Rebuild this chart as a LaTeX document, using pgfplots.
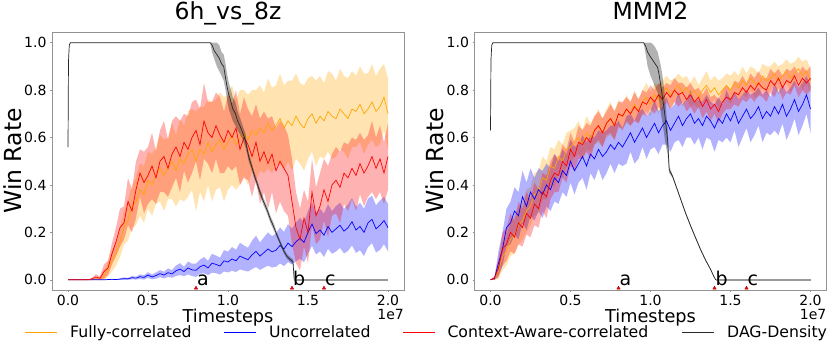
\documentclass[border=0pt]{standalone}
\usepackage{fontspec}
\setmainfont{DejaVu Sans}
\usepackage{pgfplots}
\usepackage{pgfplotstable}
\pgfplotsset{compat=1.18}

\definecolor{mplorange}{RGB}{255,165,0}
\definecolor{mplblue}{RGB}{0,0,255}
\definecolor{mplred}{RGB}{255,0,0}

% win rate, mean and std per method (x in units of 1e7 timesteps)
\pgfplotstableread{
x fm fs um us cm cs
0 0 0 0 0 0 0
0.025 0 0 0 0 0 0
0.05 0 0 0 0 0 0
0.075 0 0 0 0 0 0
0.1 0 0 0 0 0 0
0.125 0 0 0 0 0 0
0.15 0 0 0 0 0.004 0.005
0.175 0.003 0.004 0 0 0.012 0.012
0.2 0.005 0.006 0 0 0.006 0.008
0.225 0.018 0.02 0 0 0.035 0.03
0.25 0.045 0.03 0.001 0.001 0.05 0.03
0.275 0.08 0.045 0.002 0.002 0.11 0.045
0.3 0.11 0.05 0.001 0.001 0.16 0.06
0.325 0.16 0.065 0.003 0.003 0.22 0.08
0.35 0.22 0.07 0.005 0.005 0.24 0.07
0.375 0.25 0.085 0.004 0.004 0.33 0.1
0.4 0.31 0.09 0.009 0.007 0.29 0.09
0.425 0.33 0.1 0.007 0.006 0.38 0.12
0.45 0.38 0.11 0.013 0.01 0.45 0.1
0.475 0.36 0.12 0.01 0.009 0.41 0.13
0.5 0.42 0.12 0.02 0.012 0.44 0.12
0.525 0.4 0.13 0.012 0.01 0.48 0.14
0.55 0.44 0.12 0.018 0.013 0.43 0.11
0.575 0.47 0.14 0.026 0.015 0.5 0.13
0.6 0.44 0.15 0.02 0.014 0.52 0.15
0.625 0.47 0.13 0.03 0.018 0.47 0.12
0.65 0.5 0.16 0.025 0.016 0.53 0.14
0.675 0.46 0.15 0.038 0.022 0.56 0.13
0.7 0.51 0.17 0.045 0.025 0.52 0.15
0.725 0.49 0.16 0.035 0.02 0.58 0.12
0.75 0.53 0.18 0.05 0.027 0.55 0.14
0.775 0.55 0.17 0.042 0.026 0.6 0.15
0.8 0.5 0.21 0.04 0.028 0.63 0.13
0.825 0.55 0.18 0.055 0.03 0.57 0.15
0.85 0.53 0.2 0.062 0.034 0.67 0.16
0.875 0.58 0.18 0.05 0.03 0.62 0.13
0.9 0.54 0.21 0.07 0.04 0.6 0.15
0.925 0.57 0.19 0.065 0.037 0.65 0.14
0.95 0.59 0.2 0.058 0.036 0.61 0.16
0.975 0.55 0.22 0.08 0.045 0.58 0.13
1.0 0.58 0.2 0.075 0.044 0.63 0.15
1.025 0.61 0.21 0.088 0.05 0.6 0.14
1.05 0.57 0.19 0.08 0.047 0.64 0.16
1.075 0.6 0.2 0.1 0.056 0.55 0.15
1.1 0.62 0.18 0.092 0.053 0.6 0.17
1.125 0.59 0.19 0.085 0.05 0.57 0.15
1.15 0.63 0.17 0.105 0.06 0.52 0.17
1.175 0.61 0.19 0.12 0.066 0.58 0.16
1.2 0.64 0.18 0.1 0.058 0.5 0.18
1.225 0.62 0.17 0.115 0.064 0.54 0.17
1.25 0.66 0.19 0.13 0.07 0.49 0.19
1.275 0.63 0.18 0.118 0.066 0.53 0.16
1.3 0.65 0.17 0.125 0.07 0.46 0.18
1.325 0.68 0.19 0.145 0.076 0.5 0.17
1.35 0.64 0.18 0.13 0.072 0.47 0.18
1.375 0.67 0.17 0.155 0.08 0.44 0.17
1.4 0.65 0.19 0.14 0.076 0.33 0.18
1.425 0.69 0.18 0.16 0.082 0.22 0.15
1.45 0.66 0.17 0.175 0.086 0.17 0.13
1.475 0.64 0.18 0.158 0.084 0.26 0.12
1.5 0.68 0.17 0.2 0.09 0.2 0.13
1.525 0.7 0.16 0.235 0.092 0.37 0.14
1.55 0.66 0.18 0.195 0.088 0.27 0.12
1.575 0.69 0.17 0.21 0.09 0.31 0.14
1.6 0.67 0.16 0.188 0.092 0.38 0.13
1.625 0.71 0.17 0.225 0.094 0.33 0.15
1.65 0.69 0.18 0.2 0.09 0.4 0.13
1.675 0.68 0.16 0.215 0.096 0.42 0.14
1.7 0.72 0.17 0.23 0.095 0.39 0.15
1.725 0.7 0.16 0.205 0.094 0.45 0.13
1.75 0.68 0.17 0.22 0.098 0.43 0.14
1.775 0.72 0.16 0.245 0.1 0.47 0.13
1.8 0.71 0.15 0.21 0.097 0.44 0.15
1.825 0.74 0.16 0.225 0.1 0.49 0.13
1.85 0.7 0.17 0.2 0.1 0.45 0.14
1.875 0.72 0.15 0.24 0.102 0.48 0.13
1.9 0.75 0.16 0.255 0.1 0.52 0.15
1.925 0.71 0.15 0.215 0.1 0.47 0.13
1.95 0.73 0.16 0.23 0.104 0.51 0.14
1.975 0.77 0.14 0.25 0.1 0.45 0.13
2.0 0.7 0.15 0.22 0.1 0.52 0.14
}\hvsz

\pgfplotstableread{
x fm fs um us cm cs
0 0 0 0 0 0 0
0.025 0.004 0.004 0.006 0.006 0.008 0.008
0.05 0.035 0.03 0.07 0.05 0.05 0.04
0.075 0.1 0.06 0.13 0.07 0.13 0.07
0.1 0.12 0.06 0.22 0.08 0.15 0.07
0.125 0.17 0.07 0.24 0.09 0.2 0.08
0.15 0.19 0.08 0.29 0.1 0.18 0.07
0.175 0.23 0.08 0.27 0.1 0.24 0.09
0.2 0.25 0.08 0.35 0.11 0.22 0.08
0.225 0.29 0.09 0.31 0.1 0.28 0.09
0.25 0.31 0.08 0.37 0.1 0.26 0.08
0.275 0.36 0.09 0.34 0.09 0.32 0.09
0.3 0.37 0.09 0.38 0.09 0.3 0.08
0.325 0.43 0.09 0.36 0.1 0.37 0.08
0.35 0.42 0.08 0.4 0.09 0.35 0.09
0.375 0.48 0.08 0.38 0.09 0.42 0.08
0.4 0.47 0.08 0.43 0.1 0.45 0.08
0.425 0.52 0.07 0.41 0.09 0.44 0.07
0.45 0.5 0.07 0.46 0.09 0.5 0.07
0.475 0.55 0.07 0.44 0.09 0.48 0.07
0.5 0.56 0.07 0.5 0.09 0.55 0.07
0.525 0.58 0.06 0.46 0.1 0.52 0.06
0.55 0.6 0.07 0.49 0.08 0.58 0.07
0.575 0.57 0.06 0.52 0.09 0.57 0.06
0.6 0.62 0.07 0.48 0.1 0.6 0.06
0.625 0.6 0.06 0.53 0.08 0.58 0.07
0.65 0.63 0.06 0.51 0.09 0.63 0.06
0.675 0.65 0.07 0.55 0.08 0.65 0.06
0.7 0.62 0.06 0.52 0.1 0.62 0.06
0.725 0.66 0.06 0.54 0.09 0.66 0.05
0.75 0.68 0.07 0.57 0.08 0.68 0.06
0.775 0.65 0.06 0.55 0.1 0.65 0.06
0.8 0.7 0.06 0.58 0.09 0.7 0.05
0.825 0.69 0.05 0.56 0.08 0.69 0.06
0.85 0.72 0.06 0.59 0.1 0.72 0.05
0.875 0.7 0.05 0.62 0.08 0.7 0.05
0.9 0.74 0.06 0.58 0.09 0.73 0.06
0.925 0.71 0.05 0.61 0.1 0.71 0.05
0.95 0.75 0.05 0.64 0.08 0.75 0.05
0.975 0.77 0.06 0.6 0.09 0.74 0.05
1.0 0.74 0.05 0.63 0.08 0.77 0.05
1.025 0.78 0.05 0.66 0.1 0.75 0.05
1.05 0.76 0.06 0.62 0.09 0.78 0.05
1.075 0.79 0.05 0.65 0.08 0.76 0.05
1.1 0.81 0.05 0.67 0.1 0.79 0.04
1.125 0.78 0.06 0.63 0.09 0.77 0.05
1.15 0.8 0.05 0.66 0.08 0.8 0.05
1.175 0.82 0.05 0.69 0.1 0.78 0.05
1.2 0.79 0.06 0.65 0.09 0.79 0.04
1.225 0.81 0.05 0.68 0.08 0.76 0.05
1.25 0.78 0.05 0.7 0.1 0.78 0.05
1.275 0.8 0.06 0.66 0.09 0.75 0.05
1.3 0.77 0.05 0.68 0.08 0.77 0.04
1.325 0.8 0.05 0.65 0.1 0.73 0.05
1.35 0.82 0.06 0.69 0.09 0.76 0.05
1.375 0.79 0.05 0.67 0.08 0.72 0.05
1.4 0.81 0.05 0.64 0.1 0.74 0.04
1.425 0.78 0.06 0.68 0.09 0.71 0.05
1.45 0.8 0.05 0.66 0.08 0.75 0.05
1.475 0.82 0.05 0.7 0.1 0.77 0.05
1.5 0.8 0.06 0.67 0.09 0.76 0.04
1.525 0.83 0.05 0.71 0.08 0.79 0.05
1.55 0.81 0.05 0.66 0.1 0.78 0.05
1.575 0.84 0.06 0.69 0.09 0.81 0.05
1.6 0.82 0.05 0.72 0.08 0.79 0.04
1.625 0.85 0.05 0.68 0.1 0.82 0.05
1.65 0.83 0.06 0.7 0.09 0.8 0.05
1.675 0.82 0.05 0.73 0.08 0.83 0.05
1.7 0.86 0.05 0.68 0.1 0.81 0.04
1.725 0.84 0.06 0.71 0.09 0.8 0.05
1.75 0.85 0.05 0.69 0.08 0.84 0.05
1.775 0.87 0.05 0.73 0.1 0.82 0.05
1.8 0.84 0.06 0.7 0.09 0.85 0.04
1.825 0.86 0.05 0.74 0.08 0.81 0.05
1.85 0.88 0.05 0.69 0.1 0.84 0.05
1.875 0.85 0.06 0.72 0.09 0.83 0.05
1.9 0.87 0.05 0.76 0.08 0.86 0.04
1.925 0.89 0.05 0.71 0.1 0.82 0.05
1.95 0.86 0.06 0.74 0.09 0.85 0.05
1.975 0.88 0.05 0.78 0.08 0.83 0.05
2.0 0.84 0.05 0.72 0.1 0.85 0.05
}\mmm

% DAG density, mean and band
\pgfplotstableread{
x m lo hi
0 0.56 0.56 0.56
0.003 0.92 0.92 0.92
0.008 0.99 0.99 0.99
0.015 1 1 1
0.889 1 1 1
0.9 0.99 0.96 1
0.915 0.965 0.93 1
0.93 0.95 0.9 1
0.945 0.935 0.88 0.99
0.96 0.91 0.86 0.96
0.973 0.9 0.84 0.95
0.985 0.85 0.8 0.91
0.994 0.815 0.76 0.87
1.005 0.78 0.72 0.83
1.015 0.76 0.7 0.81
1.03 0.72 0.67 0.77
1.046 0.702 0.65 0.75
1.06 0.67 0.63 0.71
1.077 0.646 0.61 0.68
1.092 0.62 0.59 0.65
1.108 0.59 0.56 0.62
1.12 0.55 0.53 0.57
1.129 0.52 0.5 0.54
1.145 0.485 0.47 0.5
1.16 0.45 0.435 0.465
1.18 0.41 0.395 0.425
1.202 0.365 0.35 0.38
1.222 0.33 0.315 0.345
1.244 0.295 0.28 0.31
1.265 0.255 0.24 0.27
1.285 0.225 0.21 0.24
1.305 0.19 0.18 0.2
1.327 0.155 0.145 0.165
1.35 0.12 0.11 0.13
1.369 0.098 0.088 0.108
1.39 0.085 0.075 0.095
1.406 0.077 0.067 0.087
1.414 0 0 0
}\dagL

\pgfplotstableread{
x m lo hi
0 0.63 0.63 0.63
0.003 0.93 0.93 0.93
0.008 0.99 0.99 0.99
0.015 1 1 1
0.957 1 1 1
0.97 0.985 0.95 1
0.982 0.96 0.9 1
1.0 0.94 0.86 1
1.013 0.927 0.84 0.995
1.03 0.91 0.81 0.98
1.045 0.895 0.79 0.96
1.055 0.86 0.75 0.93
1.065 0.815 0.7 0.9
1.075 0.77 0.66 0.86
1.086 0.716 0.61 0.8
1.097 0.65 0.56 0.72
1.107 0.59 0.53 0.64
1.117 0.464 0.45 0.48
1.138 0.436 0.43 0.442
1.165 0.385 0.38 0.39
1.19 0.337 0.332 0.342
1.22 0.28 0.275 0.285
1.252 0.225 0.22 0.23
1.283 0.175 0.17 0.18
1.314 0.126 0.121 0.131
1.345 0.082 0.078 0.086
1.377 0.042 0.039 0.045
1.395 0.015 0.013 0.017
1.408 0 0 0
}\dagR

% mean +- std band, drawn as a stacked area (lower edge, then the width)
\newcommand\band[4]{%
  \addplot[stack plots=y, draw=none, forget plot] table[x=x, y expr=\thisrow{#2}-\thisrow{#3}] {#1};
  \addplot[stack plots=y, fill=#4, fill opacity=0.3, draw=none, forget plot] table[x=x, y expr=2*\thisrow{#3}] {#1} \closedcycle;
  \addplot[stack plots=y, stack dir=minus, draw=none, forget plot] table[x=x, y expr=\thisrow{#2}+\thisrow{#3}] {#1};
}
\newcommand\dagband[1]{%
  \addplot[stack plots=y, draw=none, forget plot] table[x=x, y=lo] {#1};
  \addplot[stack plots=y, fill=black, fill opacity=0.3, draw=none, forget plot] table[x=x, y expr=\thisrow{hi}-\thisrow{lo}] {#1} \closedcycle;
  \addplot[stack plots=y, stack dir=minus, draw=none, forget plot] table[x=x, y=hi] {#1};
}

\tikzset{
  abc/.style={anchor=base west, inner sep=0pt, xshift=1pt, font=\fontsize{19}{22}\selectfont},
  legtext/.style={anchor=base west, inner sep=0pt, font=\fontsize{15.7}{18}\selectfont},
}

\pgfplotsset{
  winrate/.style={
    scale only axis, width=352pt, height=258pt,
    xmin=-0.1, xmax=2.1, ymin=-0.043, ymax=1.045,
    xtick={0,0.5,1,1.5,2}, ytick={0,0.2,0.4,0.6,0.8,1},
    xticklabels={0.0,0.5,1.0,1.5,2.0}, yticklabels={0.0,0.2,0.4,0.6,0.8,1.0},
    ticklabel style={font=\fontsize{14}{16}\selectfont},
    axis line style={draw=gray!85},
    tick style={draw=gray!85, line width=0.5pt},
    tick align=outside, tick pos=left, major tick length=2pt,
    title style={at={(0.5,1)}, anchor=base, yshift=6pt, font=\fontsize{23.5}{26}\selectfont},
    xlabel={Timesteps}, ylabel={Win Rate},
    xlabel style={at={(axis description cs:0.5,0)}, anchor=base, yshift=-33pt,
      font=\fontsize{17.7}{20}\selectfont},
    ylabel style={at={(axis description cs:-0.087,0.5)}, anchor=base,
      font=\fontsize{23.5}{26}\selectfont},
    every axis plot/.append style={line width=0.7pt},
  },
}

\begin{document}
\begin{tikzpicture}
\path[use as bounding box] (0pt,0pt) rectangle (830pt,342pt);

\begin{axis}[winrate, name=L, at={(52pt,52pt)}, anchor=south west, title={6h\_vs\_8z}]
\band{\hvsz}{fm}{fs}{mplorange}
\band{\hvsz}{um}{us}{mplblue}
\band{\hvsz}{cm}{cs}{mplred}
\addplot[mplorange] table[x=x, y=fm] {\hvsz};
\addplot[mplblue] table[x=x, y=um] {\hvsz};
\addplot[mplred] table[x=x, y=cm] {\hvsz};
\dagband{\dagL}
\addplot[black!85] table[x=x, y=m] {\dagL};
\addplot[gray!80, line width=1.4pt] coordinates {(1.414,0) (2.0,0)};
\addplot[only marks, mark=triangle*, mark size=2pt, mark options={fill=mplred, draw=red!70!black, line width=0.3pt}]
  coordinates {(0.8,-0.035) (1.4,-0.035) (1.6,-0.035)};
\node[abc] at (axis cs:0.8,-0.024) {a};
\node[abc] at (axis cs:1.4,-0.024) {b};
\node[abc] at (axis cs:1.6,-0.024) {c};
\end{axis}
\node[anchor=north east, inner sep=0pt, font=\fontsize{14}{16}\selectfont] at ([yshift=-19pt]L.south east) {1e7};

\begin{axis}[winrate, name=R, at={(474.5pt,52pt)}, anchor=south west, title={MMM2}]
\band{\mmm}{fm}{fs}{mplorange}
\band{\mmm}{um}{us}{mplblue}
\band{\mmm}{cm}{cs}{mplred}
\addplot[mplorange] table[x=x, y=fm] {\mmm};
\addplot[mplblue] table[x=x, y=um] {\mmm};
\addplot[mplred] table[x=x, y=cm] {\mmm};
\dagband{\dagR}
\addplot[black!85] table[x=x, y=m] {\dagR};
\addplot[gray!80, line width=1.4pt] coordinates {(1.408,0) (2.0,0)};
\addplot[only marks, mark=triangle*, mark size=2pt, mark options={fill=mplred, draw=red!70!black, line width=0.3pt}]
  coordinates {(0.8,-0.035) (1.4,-0.035) (1.6,-0.035)};
\node[abc] at (axis cs:0.8,-0.024) {a};
\node[abc] at (axis cs:1.4,-0.024) {b};
\node[abc] at (axis cs:1.6,-0.024) {c};
\end{axis}
\node[anchor=north east, inner sep=0pt, font=\fontsize{14}{16}\selectfont] at ([yshift=-19pt]R.south east) {1e7};

% legend row under both panels
\draw[mplorange, line width=0.8pt] (25pt,9.7pt) -- (57pt,9.7pt);
\node[legtext] at (70pt,4.3pt) {Fully-correlated};
\draw[mplblue, line width=0.8pt] (224pt,9.7pt) -- (256pt,9.7pt);
\node[legtext] at (269pt,4.3pt) {Uncorrelated};
\draw[mplred, line width=0.8pt] (403pt,9.7pt) -- (435pt,9.7pt);
\node[legtext] at (447.3pt,4.3pt) {Context-Aware-correlated};
\draw[black!85, line width=0.8pt] (682pt,9.7pt) -- (714pt,9.7pt);
\node[legtext] at (727pt,4.3pt) {DAG-Density};
\end{tikzpicture}
\end{document}
